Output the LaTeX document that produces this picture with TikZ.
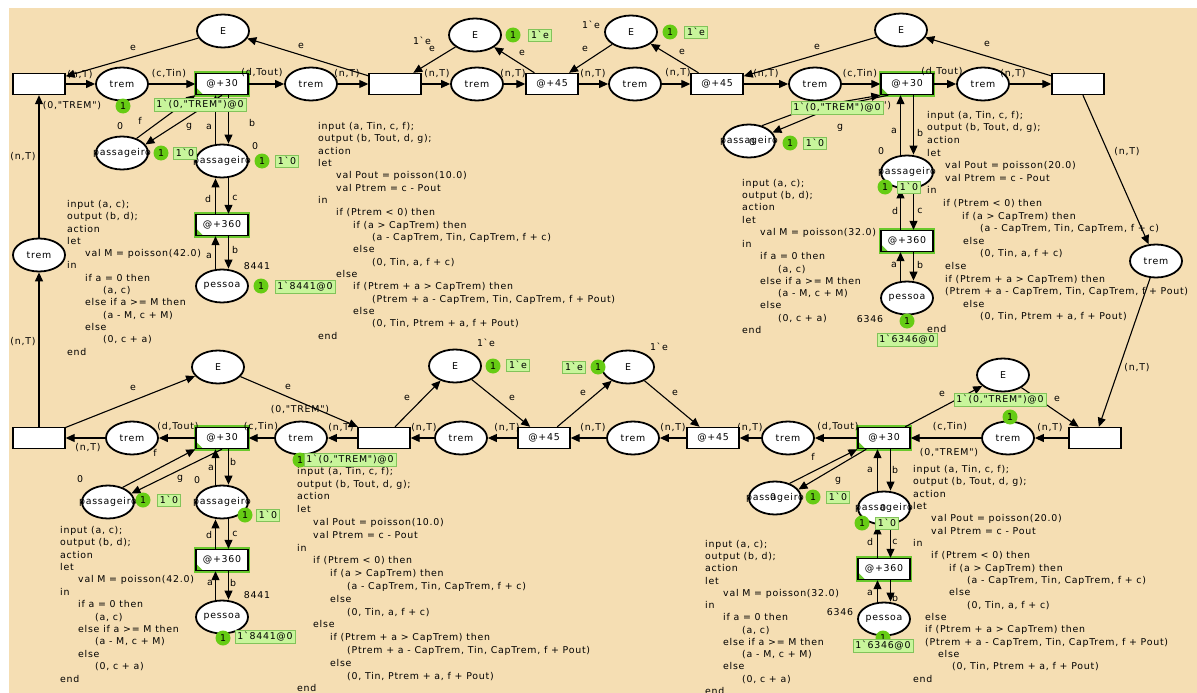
\documentclass[tikz,border=0pt]{standalone}
\usepackage{fontspec}
\newfontfamily\cpnfont{DejaVu Sans}[LetterSpace=8]
\usetikzlibrary{shapes.geometric,arrows.meta}
\definecolor{bgc}{RGB}{245,222,179}
\definecolor{tokg}{RGB}{102,204,20}
\definecolor{markg}{RGB}{200,245,155}
\definecolor{markb}{RGB}{130,195,90}
\definecolor{eng}{RGB}{105,200,45}
\newcommand{\nf}{\cpnfont\fontsize{9.4}{11}\selectfont}
\newcommand{\cpnind}[1]{\hspace*{#1pt}}
\begin{document}
\begin{tikzpicture}[x=1pt,y=-1pt,
 lbl/.style={inner sep=0pt,font=\nf},
 place/.style={ellipse,draw,line width=1.8pt,fill=white,minimum width=52pt,minimum height=33pt,inner sep=0pt},
 pl/.style={place,label={[lbl]center:#1}},
 trans/.style={rectangle,draw,line width=1.4pt,fill=white,minimum width=52pt,minimum height=21pt,inner sep=0pt,font=\nf},
 etrans/.style={trans,preaction={draw=eng,line width=4.5pt},
   path picture={\fill[eng] (path picture bounding box.south west) -- ++(7pt,0pt) -- ++(-7pt,7pt) -- cycle;}},
 cpnarc/.style={-{Triangle[length=9pt,width=8pt]},line width=1.1pt},
 tok/.style={circle,fill=tokg,inner sep=0pt,minimum size=15pt,font=\nf},
 mbox/.style={rectangle,fill=markg,draw=markb,line width=0.6pt,inner xsep=2.5pt,inner ysep=2pt,font=\nf},
 cpncode/.style={inner sep=0pt,anchor=north west,align=left,font={\cpnfont\fontsize{9.4}{#1}\selectfont}}]
\useasboundingbox (0,0) rectangle (1197,693);
\fill[white] (0,0) rectangle (1197,693);
\fill[bgc] (9,8) rectangle (1197,693);

% ---------- code blocks ----------
\node[cpncode=12.33] (codeA) at (67,200) {input (a, c);\\output (b, d);\\action\\let\\
\cpnind{18}val M = poisson(42.0)\\in\\\cpnind{18}if a = 0 then\\\cpnind{36}(a, c)\\
\cpnind{18}else if a >= M then\\\cpnind{36}(a - M, c + M)\\\cpnind{18}else\\\cpnind{36}(0, c + a)\\end};
\node[cpncode=12.35] (codeB) at (318,122) {input (a, Tin, c, f);\\output (b, Tout, d, g);\\action\\let\\
\cpnind{18}val Pout = poisson(10.0)\\\cpnind{18}val Ptrem = c - Pout\\in\\
\cpnind{18}if (Ptrem < 0) then\\\cpnind{35}if (a > CapTrem) then\\\cpnind{54}(a - CapTrem, Tin, CapTrem, f + c)\\
\cpnind{35}else\\\cpnind{54}(0, Tin, a, f + c)\\\cpnind{18}else\\\cpnind{35}if (Ptrem + a > CapTrem) then\\
\cpnind{54}(Ptrem + a - CapTrem, Tin, CapTrem, f + Pout)\\\cpnind{35}else\\\cpnind{54}(0, Tin, Ptrem + a, f + Pout)\\end};
\node[cpncode=12.25] (codeC) at (742,179) {input (a, c);\\output (b, d);\\action\\let\\
\cpnind{18}val M = poisson(32.0)\\in\\\cpnind{18}if a = 0 then\\\cpnind{36}(a, c)\\
\cpnind{18}else if a >= M then\\\cpnind{36}(a - M, c + M)\\\cpnind{18}else\\\cpnind{36}(0, c + a)\\end};
\node[cpncode=12.6] (codeD) at (927,111) {input (a, Tin, c, f);\\output (b, Tout, d, g);\\action\\let\\
\cpnind{18}val Pout = poisson(20.0)\\\cpnind{18}val Ptrem = c - Pout\\in\\
\cpnind{16}if (Ptrem < 0) then\\\cpnind{35}if (a > CapTrem) then\\\cpnind{53}(a - CapTrem, Tin, CapTrem, f + c)\\
\cpnind{36}else\\\cpnind{53}(0, Tin, a, f + c)\\\cpnind{18}else\\\cpnind{18}if (Ptrem + a > CapTrem) then\\
\cpnind{18}(Ptrem + a - CapTrem, Tin, CapTrem, f + Pout)\\\cpnind{36}else\\\cpnind{53}(0, Tin, Ptrem + a, f + Pout)\\end};
\node[cpncode=12.4] (codeE) at (60,526) {input (a, c);\\output (b, d);\\action\\let\\
\cpnind{18}val M = poisson(42.0)\\in\\\cpnind{18}if a = 0 then\\\cpnind{35}(a, c)\\
\cpnind{18}else if a >= M then\\\cpnind{35}(a - M, c + M)\\\cpnind{18}else\\\cpnind{35}(0, c + a)\\end};
\node[cpncode=12.8] (codeF) at (297,467) {input (a, Tin, c, f);\\output (b, Tout, d, g);\\action\\let\\
\cpnind{16}val Pout = poisson(10.0)\\\cpnind{16}val Ptrem = c - Pout\\in\\
\cpnind{16}if (Ptrem < 0) then\\\cpnind{33}if (a > CapTrem) then\\\cpnind{50}(a - CapTrem, Tin, CapTrem, f + c)\\
\cpnind{33}else\\\cpnind{50}(0, Tin, a, f + c)\\\cpnind{16}else\\\cpnind{33}if (Ptrem + a > CapTrem) then\\
\cpnind{50}(Ptrem + a - CapTrem, Tin, CapTrem, f + Pout)\\\cpnind{33}else\\\cpnind{50}(0, Tin, Ptrem + a, f + Pout)\\end};
\node[cpncode=12.25] (codeG) at (705,540) {input (a, c);\\output (b, d);\\action\\let\\
\cpnind{18}val M = poisson(32.0)\\in\\\cpnind{18}if a = 0 then\\\cpnind{37}(a, c)\\
\cpnind{18}else if a >= M then\\\cpnind{37}(a - M, c + M)\\\cpnind{18}else\\\cpnind{37}(0, c + a)\\end};
\node[cpncode=12.35] (codeH) at (913,465) {input (a, Tin, c, f);\\output (b, Tout, d, g);\\action\\let\\
\cpnind{18}val Pout = poisson(20.0)\\\cpnind{18}val Ptrem = c - Pout\\in\\
\cpnind{18}if (Ptrem < 0) then\\\cpnind{36}if (a > CapTrem) then\\\cpnind{54}(a - CapTrem, Tin, CapTrem, f + c)\\
\cpnind{36}else\\\cpnind{54}(0, Tin, a, f + c)\\\cpnind{12}else\\\cpnind{12}if (Ptrem + a > CapTrem) then\\
\cpnind{12}(Ptrem + a - CapTrem, Tin, CapTrem, f + Pout)\\\cpnind{25}else\\\cpnind{39}(0, Tin, Ptrem + a, f + Pout)\\end};

% ---------- places ----------
\node[pl=trem] (tr1) at (122,84) {};
\node[pl=trem] (tr2) at (311,84) {};
\node[pl=trem] (tr3) at (477,84) {};
\node[pl=trem] (tr4) at (635,84) {};
\node[pl=trem] (tr5) at (815,84) {};
\node[pl=trem] (tr6) at (983,84) {};
\node[pl=trem] (tr7) at (1156,261) {};
\node[pl=trem] (tr8) at (39,255) {};
\node[pl=trem] (tr9) at (1008,438) {};
\node[pl=trem] (tr10) at (788,438) {};
\node[pl=trem] (tr11) at (633,438) {};
\node[pl=trem] (tr12) at (461,438) {};
\node[pl=trem] (tr13) at (301,438) {};
\node[pl=trem] (tr14) at (132,438) {};
\node[pl=E] (E1) at (223,31) {};
\node[pl=E] (E2) at (475,35) {};
\node[pl=E] (E3) at (631,32) {};
\node[pl=E] (E4) at (901,30) {};
\node[pl=E] (E5) at (1003,375) {};
\node[pl=E] (E6) at (628,367) {};
\node[pl=E] (E7) at (455,366) {};
\node[pl=E] (E8) at (218,367) {};
\node[pl=passageiro] (ps1) at (122,153) {};
\node[pl=passageiro] (ps2) at (222,161) {};
\node[pl=passageiro] (ps3) at (749,141) {};
\node[pl=passageiro] (ps4) at (907,172) {};
\node[pl=passageiro] (ps5) at (108,502) {};
\node[pl=passageiro] (ps6) at (222,502) {};
\node[pl=passageiro] (ps7) at (775,498) {};
\node[pl=passageiro] (ps8) at (884,508) {};
\node[pl=pessoa] (pe1) at (222,286) {};
\node[pl=pessoa] (pe2) at (907,298) {};
\node[pl=pessoa] (pe3) at (222,617) {};
\node[pl=pessoa] (pe4) at (884,619) {};

% ---------- transitions ----------
\node[trans] (t1) at (39,84) {};
\node[trans] (t2) at (395,84) {};
\node[trans] (t3) at (1078,84) {};
\node[trans] (t4) at (1095,438) {};
\node[trans] (t5) at (384,438) {};
\node[trans] (t6) at (39,438) {};
\node[etrans] (a30a) at (222,84) {@+30};
\node[etrans] (a30b) at (907,84) {@+30};
\node[etrans] (a30c) at (222,438) {@+30};
\node[etrans] (a30d) at (884,438) {@+30};
\node[trans] (a45a) at (552,84) {@+45};
\node[trans] (a45b) at (717,84) {@+45};
\node[trans] (a45c) at (544,438) {@+45};
\node[trans] (a45d) at (713,438) {@+45};
\node[etrans] (a360a) at (222,225) {@+360};
\node[etrans] (a360b) at (907,241) {@+360};
\node[etrans] (a360c) at (222,560) {@+360};
\node[etrans] (a360d) at (884,569) {@+360};

% ---------- arcs: top line ----------
\draw[cpnarc] (t1) -- (tr1);
\draw[cpnarc] (tr1) -- (a30a);
\draw[cpnarc] (a30a) -- (tr2);
\draw[cpnarc] (tr2) -- (t2);
\draw[cpnarc] (t2) -- (tr3);
\draw[cpnarc] (tr3) -- (a45a);
\draw[cpnarc] (a45a) -- (tr4);
\draw[cpnarc] (tr4) -- (a45b);
\draw[cpnarc] (a45b) -- (tr5);
\draw[cpnarc] (tr5) -- (a30b);
\draw[cpnarc] (a30b) -- (tr6);
\draw[cpnarc] (tr6) -- (t3);
\draw[cpnarc] (E1) -- (t1);
\draw[cpnarc] (t2) -- (E1);
\draw[cpnarc] (E2) -- (t2);
\draw[cpnarc] (a45a) -- (E2);
\draw[cpnarc] (E3) -- (a45a);
\draw[cpnarc] (a45b) -- (E3);
\draw[cpnarc] (E4) -- (a45b);
\draw[cpnarc] (t3) -- (E4);
\draw[cpnarc] (t3) -- (tr7);
\draw[cpnarc] (tr7) -- (t4);
\draw[cpnarc] (t6) -- (tr8);
\draw[cpnarc] (tr8) -- (t1);
% ---------- arcs: bottom line ----------
\draw[cpnarc] (t4) -- (tr9);
\draw[cpnarc] (tr9) -- (a30d);
\draw[cpnarc] (a30d) -- (tr10);
\draw[cpnarc] (tr10) -- (a45d);
\draw[cpnarc] (a45d) -- (tr11);
\draw[cpnarc] (tr11) -- (a45c);
\draw[cpnarc] (a45c) -- (tr12);
\draw[cpnarc] (tr12) -- (t5);
\draw[cpnarc] (t5) -- (tr13);
\draw[cpnarc] (tr13) -- (a30c);
\draw[cpnarc] (a30c) -- (tr14);
\draw[cpnarc] (tr14) -- (t6);
\draw[cpnarc] (E5) -- (t4);
\draw[cpnarc] (a30d) -- (E5);
\draw[cpnarc] (E6) -- (a45d);
\draw[cpnarc] (a45c) -- (E6);
\draw[cpnarc] (E7) -- (a45c);
\draw[cpnarc] (t5) -- (E7);
\draw[cpnarc] (E8) -- (t5);
\draw[cpnarc] (t6) -- (E8);

% ---------- passenger sub-nets ----------
\draw[cpnarc] (ps1.45) -- (a30a.south west);
\draw[cpnarc] (a30a.south) -- (ps1.20);
\draw[cpnarc] ([xshift=-6.5pt]ps2.north) -- ([xshift=-6.5pt]a30a.south);
\draw[cpnarc] ([xshift=6.5pt]a30a.south) -- ([xshift=6.5pt]ps2.north);
\draw[cpnarc] ([xshift=6.5pt]ps2.south) -- ([xshift=6.5pt]a360a.north);
\draw[cpnarc] ([xshift=-6.5pt]a360a.north) -- ([xshift=-6.5pt]ps2.south);
\draw[cpnarc] ([xshift=-6.5pt]pe1.north) -- ([xshift=-6.5pt]a360a.south);
\draw[cpnarc] ([xshift=6.5pt]a360a.south) -- ([xshift=6.5pt]pe1.north);

\coordinate (bf3) at (812,107);
\coordinate (bg3) at (836,106);
\draw[cpnarc] (ps3.50) -- (bf3) -- (a30b.south west);
\draw[cpnarc] ([xshift=8pt]a30b.south west) -- (bg3) -- (ps3.20);
\draw[cpnarc] ([xshift=-6.5pt]ps4.north) -- ([xshift=-6.5pt]a30b.south);
\draw[cpnarc] ([xshift=6.5pt]a30b.south) -- ([xshift=6.5pt]ps4.north);
\draw[cpnarc] ([xshift=6.5pt]ps4.south) -- ([xshift=6.5pt]a360b.north);
\draw[cpnarc] ([xshift=-6.5pt]a360b.north) -- ([xshift=-6.5pt]ps4.south);
\draw[cpnarc] ([xshift=-6.5pt]pe2.north) -- ([xshift=-6.5pt]a360b.south);
\draw[cpnarc] ([xshift=6.5pt]a360b.south) -- ([xshift=6.5pt]pe2.north);

\draw[cpnarc] (ps5.45) -- (a30c.south west);
\draw[cpnarc] (a30c.south) -- (ps5.20);
\draw[cpnarc] ([xshift=-6.5pt]ps6.north) -- ([xshift=-6.5pt]a30c.south);
\draw[cpnarc] ([xshift=6.5pt]a30c.south) -- ([xshift=6.5pt]ps6.north);
\draw[cpnarc] ([xshift=6.5pt]ps6.south) -- ([xshift=6.5pt]a360c.north);
\draw[cpnarc] ([xshift=-6.5pt]a360c.north) -- ([xshift=-6.5pt]ps6.south);
\draw[cpnarc] ([xshift=-6.5pt]pe3.north) -- ([xshift=-6.5pt]a360c.south);
\draw[cpnarc] ([xshift=6.5pt]a360c.south) -- ([xshift=6.5pt]pe3.north);

\draw[cpnarc] (ps7.45) -- (a30d.south west);
\draw[cpnarc] ([xshift=9pt]a30d.south west) -- (ps7.20);
\draw[cpnarc] ([xshift=-6.5pt]ps8.north) -- ([xshift=-6.5pt]a30d.south);
\draw[cpnarc] ([xshift=6.5pt]a30d.south) -- ([xshift=6.5pt]ps8.north);
\draw[cpnarc] ([xshift=6.5pt]ps8.south) -- ([xshift=6.5pt]a360d.north);
\draw[cpnarc] ([xshift=-6.5pt]a360d.north) -- ([xshift=-6.5pt]ps8.south);
\draw[cpnarc] ([xshift=-6.5pt]pe4.north) -- ([xshift=-6.5pt]a360d.south);
\draw[cpnarc] ([xshift=6.5pt]a360d.south) -- ([xshift=6.5pt]pe4.north);

% ---------- arc inscriptions ----------
\node[lbl] (la1) at (133,48) {e};
\node[lbl] (la2) at (80,75) {(n,T)};
\node[lbl] (la3) at (169,74) {(c,Tin)};
\node[lbl] (la4) at (262,73) {(d,Tout)};
\node[lbl] (la5) at (301,46) {e};
\node[lbl] (la6) at (347,74) {(n,T)};
\node[lbl] (la7) at (432,49) {e};
\node[lbl] (la8) at (437,74) {(n,T)};
\node[lbl] (la9) at (513,74) {(n,T)};
\node[lbl] (la10) at (522,53) {e};
\node[lbl] (la11) at (585,49) {e};
\node[lbl] (la12) at (593,74) {(n,T)};
\node[lbl] (la13) at (678,73) {(n,T)};
\node[lbl] (la14) at (682,52) {e};
\node[lbl] (la15) at (766,74) {(n,T)};
\node[lbl] (la16) at (817,47) {e};
\node[lbl] (la17) at (860,74) {(c,Tin)};
\node[lbl] (la18) at (942,72) {(d,Tout)};
\node[lbl] (la19) at (1013,74) {(n,T)};
\node[lbl] (la20) at (987,44) {e};
\node[lbl] (la21) at (1127,152) {(n,T)};
\node[lbl] (la22) at (1137,368) {(n,T)};
\node[lbl] (la23) at (23,157) {(n,T)};
\node[lbl] (la24) at (23,342) {(n,T)};
\node[lbl] (lb1) at (133,388) {e};
\node[lbl] (lb2) at (288,387) {e};
\node[lbl] (lb3) at (88,448) {(n,T)};
\node[lbl] (lb4) at (178,427) {(d,Tout)};
\node[lbl] (lb5) at (261,427) {(c,Tin)};
\node[lbl] (lb6) at (341,428) {(n,T)};
\node[lbl] (lb7) at (424,428) {(n,T)};
\node[lbl] (lb8) at (407,398) {e};
\node[lbl] (lb9) at (512,398) {e};
\node[lbl] (lb10) at (507,428) {(n,T)};
\node[lbl] (lb11) at (583,393) {e};
\node[lbl] (lb12) at (593,428) {(n,T)};
\node[lbl] (lb13) at (675,393) {e};
\node[lbl] (lb14) at (673,428) {(n,T)};
\node[lbl] (lb15) at (750,428) {(n,T)};
\node[lbl] (lb16) at (838,427) {(d,Tout)};
\node[lbl] (lb17) at (942,394) {e};
\node[lbl] (lb18) at (950,427) {(c,Tin)};
\node[lbl] (lb19) at (1057,399) {e};
\node[lbl] (lb20) at (1050,428) {(n,T)};
% passenger inscriptions
\node[lbl] (lp1) at (140,121) {f};
\node[lbl] (lp2) at (189,127) {g};
\node[lbl] (lp3) at (209,127) {a};
\node[lbl] (lp4) at (252,123) {b};
\node[lbl] (lp5) at (208,199) {d};
\node[lbl] (lp6) at (235,198) {c};
\node[lbl] (lp7) at (209,256) {a};
\node[lbl] (lp8) at (235,250) {b};
\node[lbl] (lp9) at (840,128) {g};
\node[lbl] (lp10) at (894,131) {a};
\node[lbl] (lp11) at (920,133) {b};
\node[lbl] (lp12) at (895,211) {d};
\node[lbl] (lp13) at (920,211) {c};
\node[lbl] (lp14) at (894,265) {a};
\node[lbl] (lp15) at (920,265) {b};
\node[lbl] (lp16) at (155,453) {f};
\node[lbl] (lp17) at (180,479) {g};
\node[lbl] (lp18) at (211,468) {a};
\node[lbl] (lp19) at (233,462) {b};
\node[lbl] (lp20) at (209,535) {d};
\node[lbl] (lp21) at (235,534) {c};
\node[lbl] (lp22) at (210,583) {a};
\node[lbl] (lp23) at (233,583) {b};
\node[lbl] (lp24) at (813,457) {f};
\node[lbl] (lp25) at (838,481) {g};
\node[lbl] (lp26) at (870,470) {a};
\node[lbl] (lp27) at (895,470) {b};
\node[lbl] (lp28) at (870,542) {d};
\node[lbl] (lp29) at (895,542) {c};
\node[lbl] (lp30) at (870,593) {a};
\node[lbl] (lp31) at (895,598) {b};

% ---------- initial markings ----------
\node[lbl] (im1) at (72,106) {(0,"TREM")};
\node[lbl] (im2) at (120,126) {0};
\node[lbl] (im3) at (255,146) {0};
\node[lbl] (im4) at (257,266) {8441};
\node[lbl] (im5) at (422,41) {1`e};
\node[lbl] (im6) at (591,25) {1`e};
\node[lbl] (im7) at (862,106) {(0,"TREM")};
\node[lbl] (im8) at (752,142) {0};
\node[lbl] (im9) at (881,151) {0};
\node[lbl] (im10) at (870,319) {6346};
\node[lbl] (im11) at (300,410) {(0,"TREM")};
\node[lbl] (im12) at (486,343) {1`e};
\node[lbl] (im13) at (659,347) {1`e};
\node[lbl] (im14) at (949,453) {(0,"TREM")};
\node[lbl] (im15) at (80,479) {0};
\node[lbl] (im16) at (197,480) {0};
\node[lbl] (im17) at (257,595) {8441};
\node[lbl] (im18) at (773,497) {0};
\node[lbl] (im19) at (883,508) {0};
\node[lbl] (im20) at (840,612) {6346};

% ---------- tokens and current markings ----------
\node[tok] (k1) at (123,106) {1};
\node[tok] (k2) at (161,153) {1};
\node[tok] (k3) at (262,161) {1};
\node[tok] (k4) at (261,286) {1};
\node[tok] (k5) at (513,35) {1};
\node[tok] (k6) at (670,32) {1};
\node[tok] (k7) at (790,143) {1};
\node[tok] (k8) at (885,187) {1};
\node[tok] (k9) at (907,321) {1};
\node[tok] (k10) at (1010,417) {1};
\node[tok] (k11) at (598,367) {1};
\node[tok] (k12) at (493,366) {1};
\node[tok] (k13) at (300,460) {1};
\node[tok] (k14) at (143,500) {1};
\node[tok] (k15) at (245,515) {1};
\node[tok] (k16) at (223,638) {1};
\node[tok] (k17) at (813,497) {1};
\node[tok] (k18) at (862,523) {1};
\node[tok] (k19) at (883,638) {1};
\node[mbox] (mb1) at (200,105) {1`(0,"TREM")@0};
\node[mbox] (mb2) at (185,153) {1`0};
\node[mbox] (mb3) at (287,161) {1`0};
\node[mbox] (mb4) at (305,287) {1`8441@0};
\node[mbox] (mb5) at (540,35) {1`e};
\node[mbox] (mb6) at (696,32) {1`e};
\node[mbox] (mb7) at (837,108) {1`(0,"TREM")@0};
\node[mbox] (mb8) at (815,143) {1`0};
\node[mbox] (mb9) at (909,187) {1`0};
\node[mbox] (mb10) at (907,340) {1`6346@0};
\node[mbox] (mb11) at (1000,400) {1`(0,"TREM")@0};
\node[mbox] (mb12) at (574,367) {1`e};
\node[mbox] (mb13) at (518,365) {1`e};
\node[mbox] (mb14) at (350,460) {1`(0,"TREM")@0};
\node[mbox] (mb15) at (169,500) {1`0};
\node[mbox] (mb16) at (268,515) {1`0};
\node[mbox] (mb17) at (265,637) {1`8441@0};
\node[mbox] (mb18) at (838,497) {1`0};
\node[mbox] (mb19) at (887,523) {1`0};
\node[mbox] (mb20) at (883,646) {1`6346@0};
\end{tikzpicture}
\end{document}
